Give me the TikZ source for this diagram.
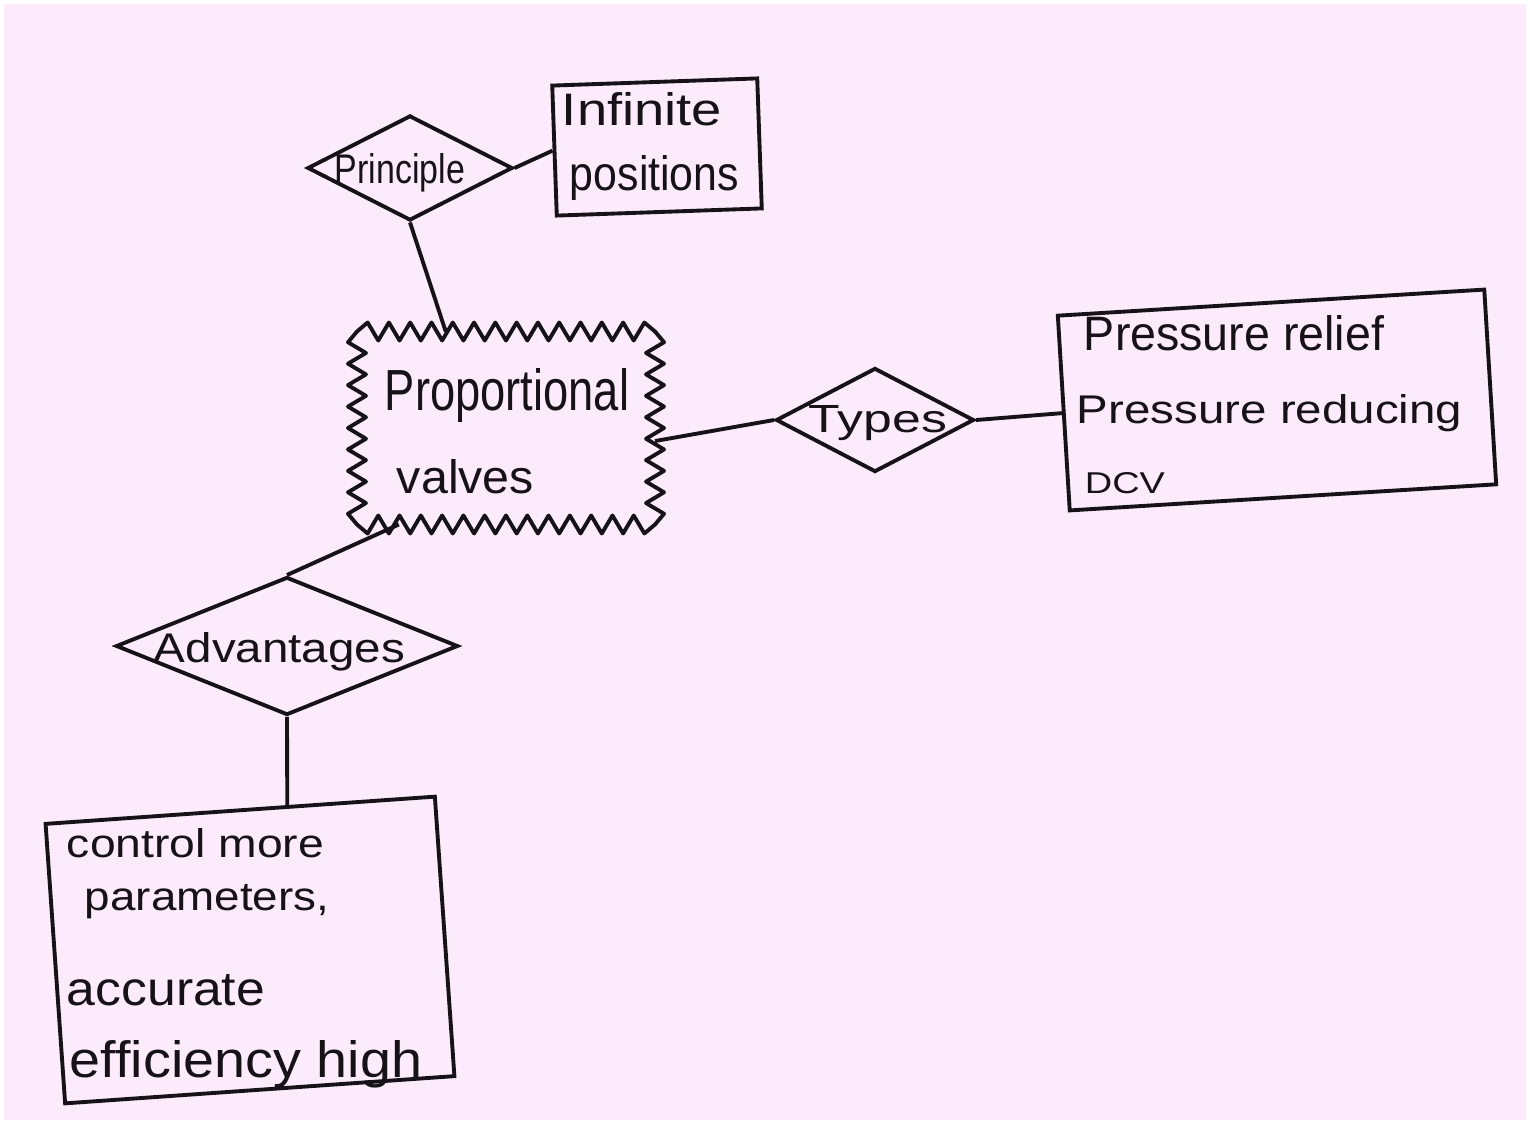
\documentclass[tikz,border=0pt]{standalone}
\usepackage{fontspec}
\setmainfont{Liberation Sans}
\usetikzlibrary{shapes.geometric,calc}
\definecolor{paper}{RGB}{251,235,251}
\definecolor{ink}{RGB}{22,18,24}
\newcommand{\hwtext}[3]{\resizebox{#1}{#2}{#3}}
% zigzag side: #1 start, #2 end, #3 points (2n), #4 #5 outward offset
\newcommand{\zigside}[5]{%
  \draw[zigl] (#1) \foreach \i [evaluate=\i as \t using \i/#3,
        evaluate=\i as \s using {1-2*mod(\i+1,2)}] in {1,...,\numexpr#3-1\relax}
     { -- ($(#1)!\t!(#2) + (\s*#4,\s*#5)$) } -- (#2);}
\begin{document}
\begin{tikzpicture}[x=0.01cm,y=-0.01cm, line width=1.1pt, draw=ink,
  dia/.style={diamond, draw=ink, inner sep=0pt},
  boxn/.style={rectangle, draw=ink, inner sep=0pt},
  txt/.style={anchor=base west, inner sep=0pt, text=ink},
  link/.style={draw=ink, line width=1.1pt},
  zigl/.style={draw=ink, line width=1.1pt, line join=round, line cap=round}]
\fill[white] (0,0) rectangle (1530,1124);
\fill[paper] (4,4) rectangle (1526,1120);
\useasboundingbox (0,0) rectangle (1530,1124);

% shapes
\node[dia, minimum width=2.05cm, minimum height=1.05cm] (pr) at (410,168) {};
\node[boxn, minimum width=2.05cm, minimum height=1.3cm, rotate=2] (inf) at (657,147) {};
\node[rectangle, inner sep=0pt, minimum width=2.94cm, minimum height=1.89cm] (pv) at (506,428) {};
\zigside{pv.north west}{pv.north east}{28}{0}{-9}
\zigside{pv.north east}{pv.south east}{18}{9}{0}
\zigside{pv.south east}{pv.south west}{28}{0}{9}
\zigside{pv.south west}{pv.north west}{18}{-9}{0}
\node[dia, minimum width=1.98cm, minimum height=1.04cm] (ty) at (875,420) {};
\node[boxn, minimum width=4.27cm, minimum height=1.95cm, rotate=3.5] (tb) at (1277,400) {};
\node[dia, minimum width=3.42cm, minimum height=1.38cm] (ad) at (287,646) {};
\node[boxn, minimum width=3.9cm, minimum height=2.8cm, rotate=4] (ab) at (250,950) {};

% connectors
\draw[link] (pr.south) -- (pv.122);
\draw[link] (pr.east) -- (inf.west);
\draw[link] (pv.-5) -- (ty.west);
\draw[link] (ty.east) -- (tb.west);
\draw[link] (pv.222) -- (ad.north);
\draw[link] (ad.south) -- ($(ab.north west)!0.62!(ab.north east)$);

% texts
\node[txt] (t1) at (333,183) {\hwtext{1.30cm}{0.30cm}{Principle}};
\node[txt] (t2) at (560,125) {\hwtext{1.60cm}{0.33cm}{Infinite}};
\node[txt] (t3) at (568,190) {\hwtext{1.69cm}{0.35cm}{positions}};
\node[txt] (t4) at (383,410) {\hwtext{2.44cm}{0.42cm}{Proportional}};
\node[txt] (t5) at (395,493) {\hwtext{1.37cm}{0.34cm}{valves}};
\node[txt] (t6) at (807,432) {\hwtext{1.38cm}{0.27cm}{Types}};
\node[txt] (t7) at (1082,350) {\hwtext{3.00cm}{0.35cm}{Pressure relief}};
\node[txt] (t8) at (1075,423) {\hwtext{3.85cm}{0.29cm}{Pressure reducing}};
\node[txt] (t9) at (1083,493) {\hwtext{0.80cm}{0.21cm}{DCV}};
\node[txt] (t10) at (152,662) {\hwtext{2.51cm}{0.30cm}{Advantages}};
\node[txt] (t11) at (65,857) {\hwtext{2.57cm}{0.29cm}{control more}};
\node[txt] (t12) at (83,910) {\hwtext{2.44cm}{0.26cm}{parameters,}};
\node[txt] (t13) at (65,1005) {\hwtext{1.98cm}{0.31cm}{accurate}};
\node[txt] (t14) at (68,1077) {\hwtext{3.52cm}{0.37cm}{efficiency high}};
\end{tikzpicture}
\end{document}
